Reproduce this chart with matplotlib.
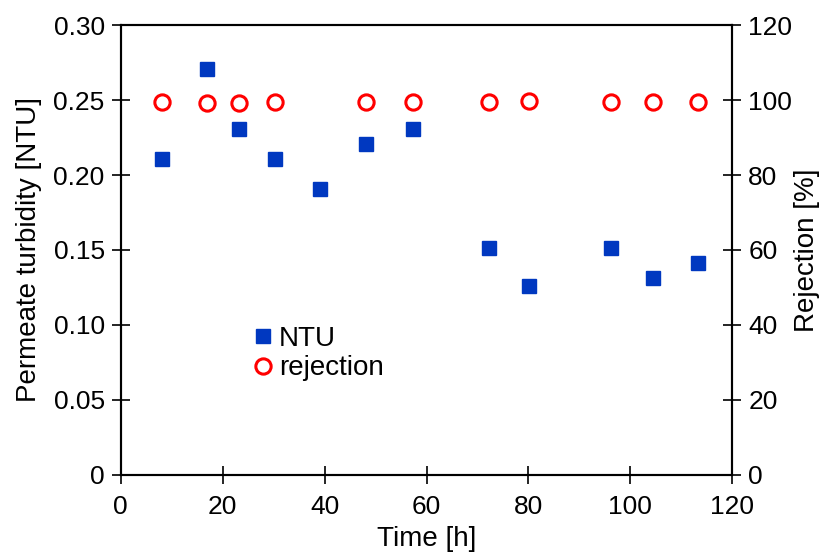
import matplotlib.pyplot as plt

plt.rcParams['font.family'] = ['Liberation Sans', 'DejaVu Sans']
plt.rcParams['font.size'] = 19

# NTU series (left axis)
time_ntu = [8.2, 16.9, 23.3, 30.3, 39.2, 48.2, 57.3, 72.3, 80.2, 96.2, 104.5, 113.3]
ntu = [0.211, 0.271, 0.231, 0.211, 0.191, 0.221, 0.231, 0.151, 0.126, 0.151, 0.131, 0.141]

# rejection series (right axis)
time_rej = [8.2, 16.9, 23.3, 30.3, 48.2, 57.3, 72.3, 80.2, 96.2, 104.5, 113.3]
rejection = [99.4, 99.3, 99.3, 99.4, 99.5, 99.5, 99.6, 99.7, 99.5, 99.6, 99.6]

fig = plt.figure(figsize=(8.21, 5.58), dpi=100)
ax = fig.add_axes([0.147, 0.149, 0.745, 0.806])
ax2 = ax.twinx()

l1, = ax.plot(time_ntu, ntu, 's', color='#0038c0', markersize=10.5, label='NTU', zorder=3)
l2, = ax2.plot(time_rej, rejection, 'o', color='white', markeredgecolor='#ff0000',
               markeredgewidth=2.2, markersize=11, label='rejection', zorder=3)

ax.set_xlim(0, 120)
ax.set_ylim(0, 0.30)
ax2.set_ylim(0, 120)
ax.set_xticks(range(0, 121, 20))
ax.set_yticks([0, 0.05, 0.10, 0.15, 0.20, 0.25, 0.30])
ax.set_yticklabels(['0', '0.05', '0.10', '0.15', '0.20', '0.25', '0.30'])
ax2.set_yticks(range(0, 121, 20))

for a in (ax, ax2):
    a.tick_params(direction='inout', length=13, width=1.2, pad=5)
    for s in a.spines.values():
        s.set_linewidth(1.5)
ax.tick_params(axis='x', pad=8)

ax.set_xlabel('Time [h]', fontsize=20, labelpad=5)
ax.set_ylabel('Permeate turbidity [NTU]', fontsize=20, labelpad=8)
ax2.set_ylabel('Rejection [%]', fontsize=20, labelpad=1)

ax.legend(handles=[l1, l2], loc='upper left', bbox_to_anchor=(0.188, 0.362),
          frameon=False, handletextpad=0.05, handlelength=1.0, labelspacing=0.12,
          borderpad=0, fontsize=20)

fig.savefig('out.png', dpi=100)
